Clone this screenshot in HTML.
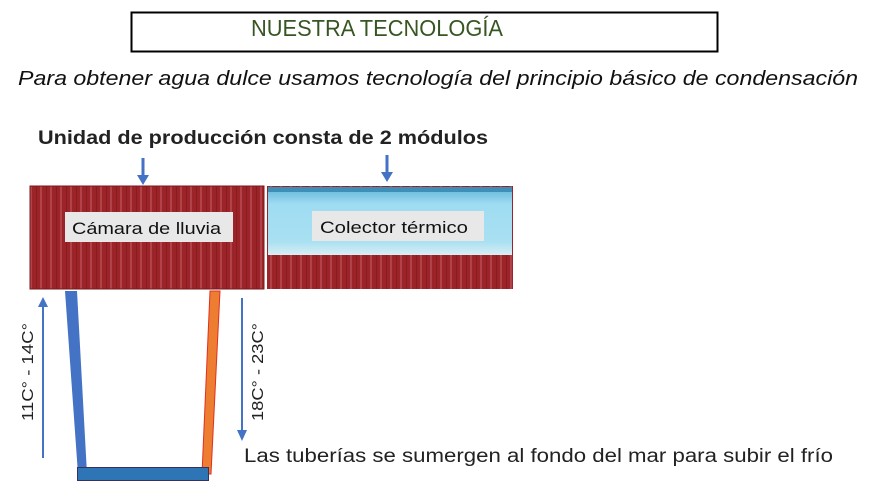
<!DOCTYPE html>
<html><head><meta charset="utf-8"><style>html,body{margin:0;padding:0;background:#fff}svg{display:block}</style></head>
<body>
<svg width="872" height="494" viewBox="0 0 872 494" xmlns="http://www.w3.org/2000/svg" font-family="Liberation Sans, sans-serif">
<defs>
<pattern id="st" width="10" height="10" patternUnits="userSpaceOnUse">
<rect width="10" height="10" fill="#9c2429"/><rect x="0" width="2" height="10" fill="#b0434a"/><rect x="6" width="1" height="10" fill="#861d22"/>
</pattern>
<linearGradient id="sky" x1="0" y1="0" x2="0" y2="1">
<stop offset="0" stop-color="#5fb4d8"/><stop offset="0.25" stop-color="#9fdcf2"/><stop offset="0.8" stop-color="#a9e0f2"/><stop offset="1" stop-color="#d8eef4"/>
</linearGradient>
</defs>
<rect x="131.5" y="12.5" width="586" height="39" fill="#fff" stroke="#000" stroke-width="2"/>
<text x="251" y="36" font-size="23" fill="#375623" textLength="252" lengthAdjust="spacingAndGlyphs">NUESTRA TECNOLOGÍA</text>
<text x="18" y="85" font-size="20" font-style="italic" fill="#111" textLength="840" lengthAdjust="spacingAndGlyphs">Para obtener agua dulce usamos tecnología del principio básico de condensación</text>
<text x="38" y="144" font-size="19" font-weight="bold" fill="#222" textLength="450" lengthAdjust="spacingAndGlyphs">Unidad de producción consta de 2 módulos</text>
<line x1="143" y1="158" x2="143" y2="176" stroke="#4472c4" stroke-width="3"/><polygon points="137,175 149,175 143,185" fill="#4472c4"/>
<line x1="387" y1="155" x2="387" y2="173" stroke="#4472c4" stroke-width="3"/><polygon points="381,172 393,172 387,182" fill="#4472c4"/>
<rect x="30" y="186" width="234" height="103" fill="url(#st)"/>
<rect x="30" y="186" width="234" height="103" fill="none" stroke="#7a171c" stroke-width="1"/>
<rect x="267" y="186" width="246" height="103" fill="url(#st)"/>
<rect x="268" y="187" width="244" height="68" fill="url(#sky)"/>
<rect x="268" y="187" width="244" height="5" fill="#3e8fb8"/>
<rect x="65" y="212" width="168" height="30" fill="#e8e8e8"/>
<text x="72" y="234" font-size="17" fill="#111" textLength="149" lengthAdjust="spacingAndGlyphs">Cámara de lluvia</text>
<rect x="312" y="211" width="172" height="30" fill="#e8e8e8"/>
<text x="320" y="233" font-size="17" fill="#111" textLength="148" lengthAdjust="spacingAndGlyphs">Colector térmico</text>
<polygon points="65,291 77,291 87,474 78,474" fill="#4472c4"/>
<polygon points="210,291 220,291 211,474 202,474" fill="#ed7d31" stroke="#e03020" stroke-width="1"/>
<rect x="77.5" y="467.5" width="131" height="13" fill="#2e75b6" stroke="#3a3060" stroke-width="1"/>
<line x1="43" y1="458" x2="43" y2="305" stroke="#4472c4" stroke-width="2"/><polygon points="38,307 48,307 43,297" fill="#4472c4"/>
<line x1="242" y1="298" x2="242" y2="432" stroke="#4472c4" stroke-width="2"/><polygon points="237,430 247,430 242,441" fill="#4472c4"/>
<text transform="translate(33,421) rotate(-90)" font-size="16" fill="#222" textLength="98" lengthAdjust="spacingAndGlyphs">11C° - 14C°</text>
<text transform="translate(263,421) rotate(-90)" font-size="16" fill="#222" textLength="98" lengthAdjust="spacingAndGlyphs">18C° - 23C°</text>
<text x="244" y="462" font-size="19" fill="#222" textLength="589" lengthAdjust="spacingAndGlyphs">Las tuberías se sumergen al fondo del mar para subir el frío</text>
</svg>
</body></html>
